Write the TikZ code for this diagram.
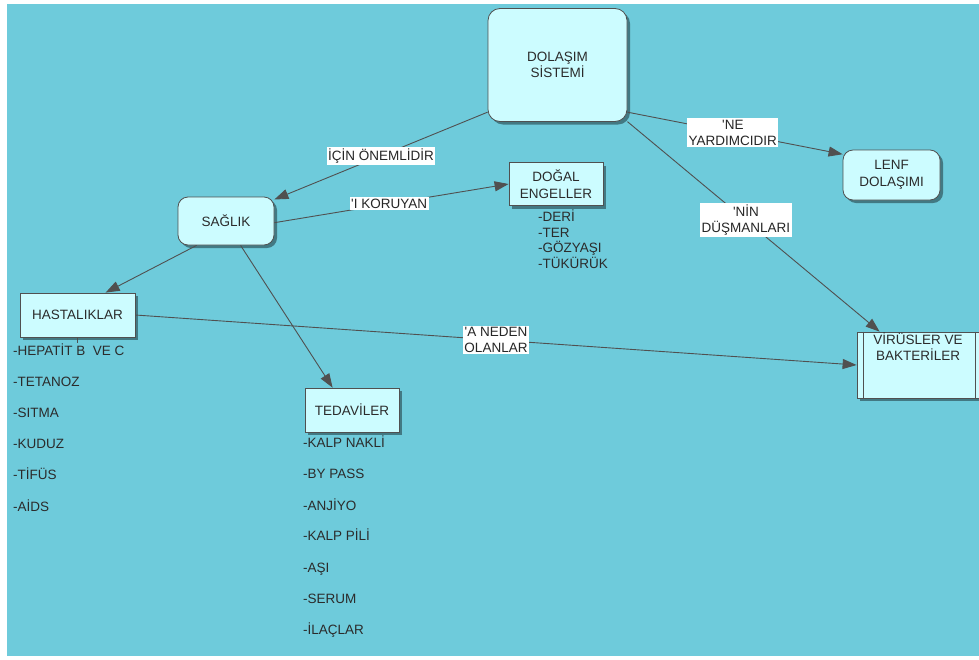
\documentclass[tikz,border=0pt]{standalone}
\usepackage{fontspec}
\setmainfont{Liberation Sans}[Ligatures=TeXOff]
\usetikzlibrary{shadows,arrows.meta}
\definecolor{bgcyan}{HTML}{6ECBDB}
\definecolor{boxfill}{HTML}{CCFCFF}
\definecolor{edgegray}{HTML}{505050}
\definecolor{txt}{HTML}{2B2B2B}
\begin{document}
\begin{tikzpicture}[x=1pt,y=-1pt,
  font=\fontsize{13.5}{16.5}\selectfont,
  concept/.style={draw=edgegray, line width=0.8pt, fill=boxfill, text=txt,
    align=center, inner sep=0pt,
    drop shadow={shadow xshift=3pt, shadow yshift=-3pt, fill=black, opacity=0.4}},
  roundbox/.style={concept, rounded corners=10pt},
  link/.style={draw=edgegray, line width=0.9pt, -{Triangle[length=14pt,width=10pt]}},
  lbl/.style={fill=white, text=black!85, inner sep=1.5pt, align=center},
  item/.style={anchor=west, text=txt, inner sep=0pt, text height=9.5pt, text depth=0pt}]

% page and background
\useasboundingbox (0,0) rectangle (979,659);
\fill[white] (0,0) rectangle (979,659);
\fill[bgcyan] (7,4) rectangle (979,656);

% concepts
\node[roundbox, rounded corners=12pt, minimum width=139pt, minimum height=113pt] (dol) at (557.5,65) {DOLAŞIM\\SİSTEMİ};
\node[roundbox, minimum width=96pt, minimum height=48pt] (sag) at (226,221) {SAĞLIK};
\node[concept, minimum width=94pt, minimum height=43pt] (dog) at (556,184) {DOĞAL\\ENGELLER};
\node[concept, minimum width=115pt, minimum height=44pt] (has) at (77.5,315) {HASTALIKLAR};
\node[concept, minimum width=94pt, minimum height=44pt] (ted) at (352,410) {TEDAVİLER};
\node[roundbox, minimum width=97pt, minimum height=50pt] (len) at (891.5,175) {LENF\\DOLAŞIMI};
\node[concept, minimum width=125pt, minimum height=66pt] (vir) at (919.5,365) {};
\draw[edgegray, line width=0.8pt] ([xshift=7pt]vir.north west) -- ([xshift=7pt]vir.south west);
\draw[edgegray, line width=0.8pt] ([xshift=-7pt]vir.north east) -- ([xshift=-7pt]vir.south east);
\node[text=txt, align=center, inner sep=0pt] (virtxt) at (918,346.5) {VİRÜSLER VE\\BAKTERİLER};

% lists under the concepts
\draw[edgegray, line width=0.8pt] (has.south) -- ++(0,6);
\node[item] (d1) at (538,217) {-DERİ};
\node[item] (d2) at (538,233) {-TER};
\node[item] (d3) at (538,248) {-GÖZYAŞI};
\node[item] (d4) at (538,264) {-TÜKÜRÜK};

\node[item] (h1) at (13,351) {-HEPATİT B\ \ VE C};
\node[item] (h2) at (13,382) {-TETANOZ};
\node[item] (h3) at (13,413) {-SITMA};
\node[item] (h4) at (13,444) {-KUDUZ};
\node[item] (h5) at (13,475) {-TİFÜS};
\node[item] (h6) at (13,507) {-AİDS};

\node[item] (t1) at (303,443) {-KALP NAKLİ};
\node[item] (t2) at (303,474) {-BY PASS};
\node[item] (t3) at (303,506) {-ANJİYO};
\node[item] (t4) at (303,536) {-KALP PİLİ};
\node[item] (t5) at (303,568) {-AŞI};
\node[item] (t6) at (303,599) {-SERUM};
\node[item] (t7) at (303,630) {-İLAÇLAR};

% connectors
\draw[link] (dol.214) -- node[lbl, pos=.5] {İÇİN ÖNEMLİDİR} (sag.24);
\draw[link] (sag.-2) -- node[lbl, pos=.49] {'I KORUYAN} (dog.west);
\draw[link] (dol.-34) -- node[lbl, pos=.49] {'NE\\YARDIMCIDIR} (len.157);
\draw[link] (dol.-39) -- node[lbl, pos=.47] {'NİN\\DÜŞMANLARI} ([xshift=23pt]vir.north west);
\draw[link] ([xshift=19pt]sag.south west) -- ([xshift=86pt]has.north west);
\draw[link] ([xshift=63pt]sag.south west) -- ([xshift=28pt]ted.north west);
\draw[link] (has.east) -- node[lbl, pos=.5] {'A NEDEN\\OLANLAR} (vir.west);
\end{tikzpicture}
\end{document}
